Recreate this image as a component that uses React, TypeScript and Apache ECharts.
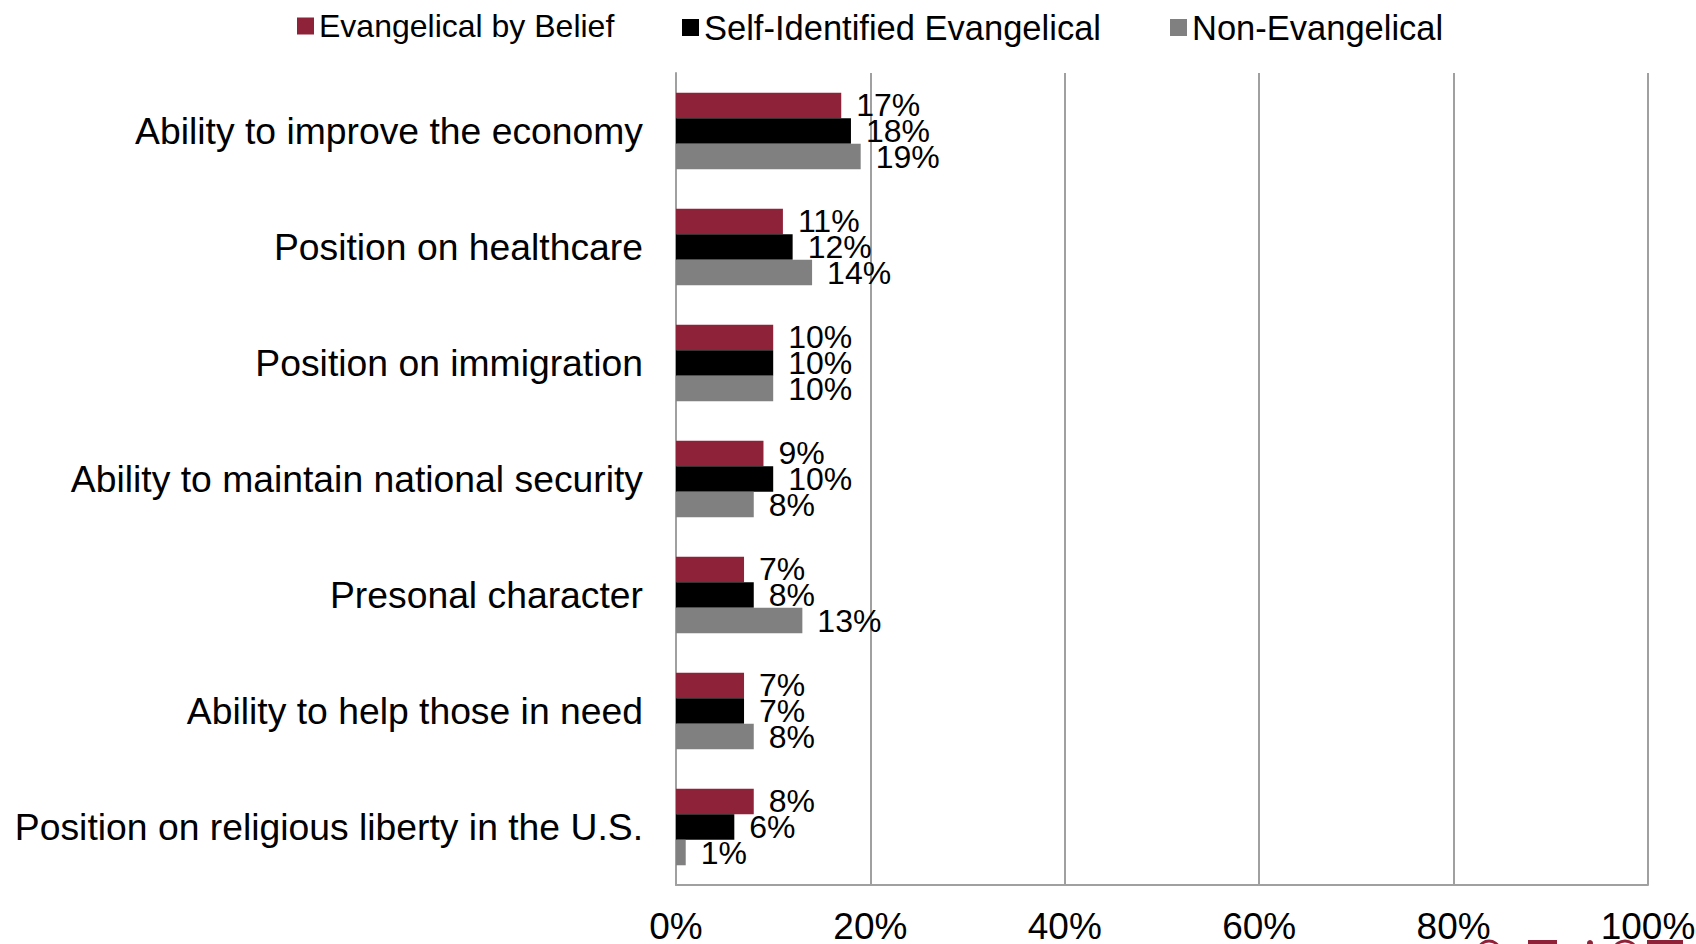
import React, { useEffect, useRef } from "react";
import * as echarts from "echarts";

const categories = [
  "Ability to improve the economy",
  "Position on healthcare",
  "Position on immigration",
  "Ability to maintain national security",
  "Presonal character",
  "Ability to help those in need",
  "Position on religious liberty in the U.S.",
];
const seriesNames = ["Evangelical by Belief", "Self-Identified Evangelical", "Non-Evangelical"];
const evangelicalByBelief = [17, 11, 10, 9, 7, 7, 8];
const selfIdentified = [18, 12, 10, 10, 8, 7, 6];
const nonEvangelical = [19, 14, 10, 8, 13, 8, 1];
const colors = ["#8E2239", "#000000", "#808080"];

const FONT = '"Liberation Sans", Arial, sans-serif';

export default function App() {
  const ref = useRef<HTMLDivElement>(null);
  useEffect(() => {
    if (!ref.current) return;
    const chart = echarts.init(ref.current, null, { renderer: "svg" });
    const values = [evangelicalByBelief, selfIdentified, nonEvangelical];
    const legendLefts = [292, 677, 1165];
    const legendSizes = [32, 34.5, 34.5];
    chart.setOption({
      animation: false,
      backgroundColor: "#ffffff",
      textStyle: { fontFamily: FONT },
      legend: seriesNames.map((n, i) => ({
        data: [n],
        left: legendLefts[i],
        top: 5,
        icon: "rect",
        itemWidth: 17,
        itemHeight: 17,
        itemGap: 0,
        textStyle: { fontSize: legendSizes[i], color: "#000", fontFamily: FONT },
      })),
      grid: {
        left: 676,
        right: 48,
        top: 73,
        bottom: 59,
        containLabel: false,
        outerBoundsMode: "none",
      },
      xAxis: {
        type: "value",
        min: 0,
        max: 100,
        interval: 20,
        axisLabel: {
          formatter: "{value}%",
          fontSize: 37,
          color: "#000",
          margin: 23,
          fontFamily: FONT,
        },
        axisLine: { show: true, lineStyle: { color: "#A0A0A0", width: 2 } },
        axisTick: { show: false },
        splitLine: { show: true, lineStyle: { color: "#A0A0A0", width: 2 } },
      },
      yAxis: {
        type: "category",
        data: categories,
        inverse: true,
        axisLabel: { fontSize: 37.3, color: "#000", margin: 33, fontFamily: FONT },
        axisLine: { show: true, lineStyle: { color: "#A0A0A0", width: 2 } },
        axisTick: { show: false },
        splitLine: { show: false },
      },
      series: seriesNames.map((n, i) => ({
        name: n,
        type: "bar",
        data: values[i],
        barGap: "0%",
        barCategoryGap: "34%",
        itemStyle: { color: colors[i] },
        label: {
          show: true,
          position: "right",
          distance: 15,
          formatter: "{c}%",
          fontSize: 32,
          color: "#000",
          fontFamily: FONT,
        },
      })),
      graphic: [
        { type: "arc", shape: { cx: 1489, cy: 952, r: 11, startAngle: Math.PI * 1.1, endAngle: Math.PI * 1.9 }, style: { stroke: colors[0], lineWidth: 3, fill: "none" } },
        { type: "rect", shape: { x: 1528, y: 940, width: 29, height: 4 }, style: { fill: colors[0] } },
        { type: "circle", shape: { cx: 1590, cy: 943, r: 3 }, style: { fill: colors[0] } },
        { type: "arc", shape: { cx: 1625, cy: 953, r: 12, startAngle: Math.PI * 1.1, endAngle: Math.PI * 1.9 }, style: { stroke: colors[0], lineWidth: 3, fill: "none" } },
        { type: "rect", shape: { x: 1647, y: 940, width: 36, height: 4 }, style: { fill: colors[0] } },
      ],
    });
    return () => chart.dispose();
  }, []);
  return (
    <div
      ref={ref}
      style={{ position: "fixed", left: 0, top: 0, width: 1696, height: 944, background: "#fff" }}
    />
  );
}
